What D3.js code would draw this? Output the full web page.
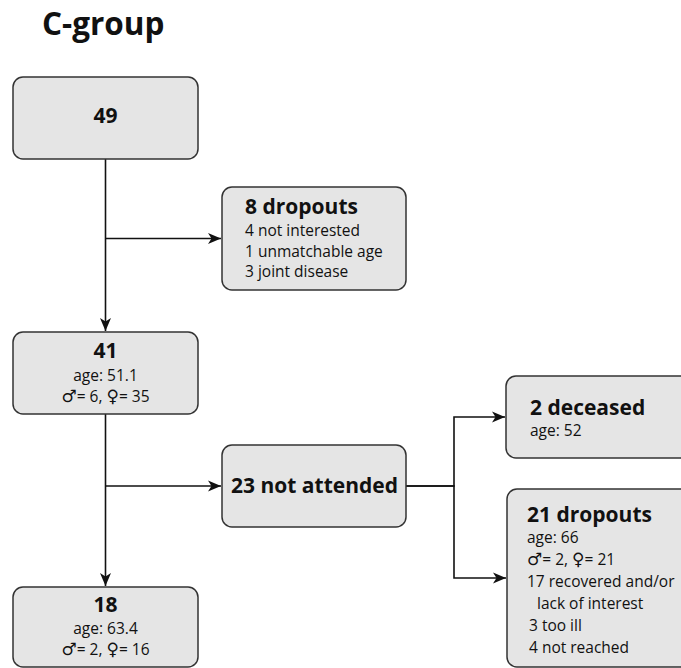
<!DOCTYPE html>
<html>
<head>
<meta charset="utf-8">
<script src="https://cdn.jsdelivr.net/npm/d3@7"></script>
<style>
  body { margin: 0; background: #fff; }
  text { font-family: "Open Sans", "Noto Sans", sans-serif; fill: #111; }
  .sym { font-family: "DejaVu Sans", sans-serif; }
</style>
</head>
<body>
<div id="chart"></div>
<script>
// flow chart data
var title = "C-group";
var nodeIds = ["start", "drop8", "n41", "na23", "n18", "dec2", "drop21"];
var headlines = ["49", "8 dropouts", "41", "23 not attended", "18", "2 deceased", "21 dropouts"];
var details = [
    [],
    ["4 not interested", "1 unmatchable age", "3 joint disease"],
    ["age: 51.1", "\u2642= 6, \u2640= 35"],
    [],
    ["age: 63.4", "\u2642= 2, \u2640= 16"],
    ["age: 52"],
    ["age: 66", "\u2642= 2, \u2640= 21", "17 recovered and/or", "lack of interest", "3 too ill", "4 not reached"]
];
var links = [
    ["start", "n41", "down"],
    ["start", "drop8", "side"],
    ["n41", "n18", "down"],
    ["n41", "na23", "side"],
    ["na23", "dec2", "elbow"],
    ["na23", "drop21", "elbow"]
];

// layout (positions kept apart from the data)
var layout = {
    start:  { x: 13,  y: 77,  w: 185, h: 82,  anchor: "middle", head: 46, step: 0 },
    drop8:  { x: 222, y: 187, w: 184, h: 103, anchor: "start", tx: 245, head: 27, first: 22, step: 20.5, indent: [0, 0, 0] },
    n41:    { x: 13,  y: 332, w: 185, h: 82,  anchor: "middle", head: 26, first: 23, step: 21 },
    na23:   { x: 222, y: 445, w: 184, h: 82,  anchor: "start", tx: 231, head: 48 },
    n18:    { x: 13,  y: 587, w: 185, h: 80,  anchor: "middle", head: 25, first: 22, step: 21 },
    dec2:   { x: 506, y: 376, w: 190, h: 82,  anchor: "start", tx: 530, head: 39, first: 21, step: 21 },
    drop21: { x: 507, y: 489, w: 190, h: 178, anchor: "start", tx: 527, head: 33, first: 21, step: 22, indent: [0, 0, 0, 10, 2, 2] }
};
var branchX = 454;

var width = 681, height = 668;
var svg = d3.select("#chart").append("svg")
    .attr("width", width)
    .attr("height", height);

svg.append("defs").append("marker")
    .attr("id", "arrow")
    .attr("markerUnits", "userSpaceOnUse")
    .attr("viewBox", "-1 -7 16 14")
    .attr("refX", 13)
    .attr("refY", 0)
    .attr("markerWidth", 16)
    .attr("markerHeight", 14)
    .attr("orient", "auto")
    .append("path")
    .attr("d", "M0,-5.5L13,0L0,5.5L3.5,0Z")
    .attr("fill", "#111");

svg.append("text")
    .text(title)
    .attr("x", 42)
    .attr("y", 35)
    .attr("font-size", 31.5)
    .attr("font-weight", "bold");

function cx(n) { return n.x + n.w / 2; }
function cy(n) { return n.y + n.h / 2; }

var line = d3.line();

function route(l) {
    var s = layout[l[0]], t = layout[l[1]];
    if (l[2] == "down") return [[cx(s), s.y + s.h], [cx(s), t.y - 1]];
    if (l[2] == "side") return [[cx(s), cy(t)], [t.x - 1, cy(t)]];
    return [[s.x + s.w, cy(s)], [branchX, cy(s)], [branchX, cy(t)], [t.x - 1, cy(t)]];
}

svg.selectAll(".link").data(links).enter()
    .append("path")
    .attr("class", "link")
    .attr("d", function(d) { return line(route(d)); })
    .attr("fill", "none")
    .attr("stroke", "#111")
    .attr("stroke-width", 1.6)
    .attr("marker-end", "url(#arrow)");

var nodes = nodeIds.map(function(id, i) {
    return { id: id, head: headlines[i], lines: details[i], L: layout[id] };
});

var g = svg.selectAll(".node").data(nodes).enter()
    .append("g")
    .attr("class", "node")
    .attr("transform", function(d) { return "translate(" + d.L.x + "," + d.L.y + ")"; });

g.append("rect")
    .attr("width", function(d) { return d.L.w; })
    .attr("height", function(d) { return d.L.h; })
    .attr("rx", 10)
    .attr("ry", 10)
    .attr("fill", "#e5e5e5")
    .attr("stroke", "#333")
    .attr("stroke-width", 1.5);

function textX(d) {
    return d.L.anchor == "middle" ? d.L.w / 2 : d.L.tx - d.L.x;
}

g.append("text")
    .text(function(d) { return d.head; })
    .attr("x", textX)
    .attr("y", function(d) { return d.L.head; })
    .attr("text-anchor", function(d) { return d.L.anchor; })
    .attr("font-size", 21)
    .attr("font-weight", "bold");

g.each(function(d) {
    d3.select(this).selectAll(".detail").data(d.lines).enter()
        .append("text")
        .attr("class", "detail")
        .attr("x", function(s, i) { return textX(d) + (d.L.indent ? d.L.indent[i] : 0); })
        .attr("y", function(s, i) { return d.L.head + d.L.first + i * d.L.step; })
        .attr("text-anchor", d.L.anchor)
        .attr("font-size", 15.5)
        .each(function(s) {
            // gender symbols in a font that has them at full size
            var t = d3.select(this);
            s.split(/([\u2640\u2642])/).forEach(function(part) {
                if (!part) return;
                var sp = t.append("tspan").text(part);
                if (part == "\u2642" || part == "\u2640") sp.attr("class", "sym").attr("font-size", 17);
            });
        });
});
</script>
</body>
</html>
